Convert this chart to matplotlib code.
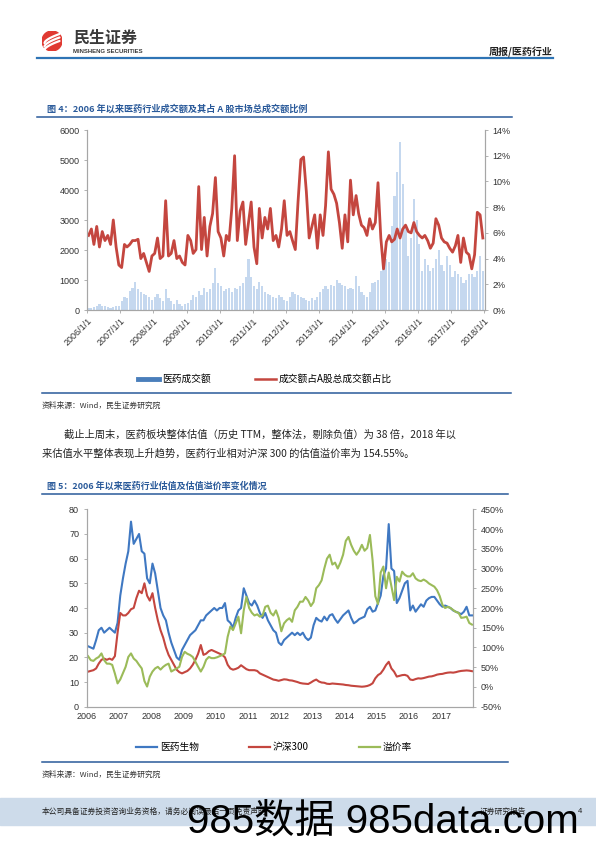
import matplotlib
matplotlib.use('Agg')
import matplotlib.pyplot as plt
from matplotlib.lines import Line2D
from matplotlib.patches import Rectangle, Circle
from matplotlib.ticker import FuncFormatter
import numpy as np
import pandas as pd

plt.rcParams['font.family'] = ['Liberation Sans', 'Noto Sans CJK SC']
CJK = ['Noto Sans CJK SC', 'Liberation Sans']

W, H = 596, 842

# ---- figure 4 data: monthly, 2006-01 .. 2017-12 ----
# pharma turnover (left axis, 亿元)
turnover = [60, 80, 100, 150, 200, 150, 120, 100, 80, 100, 120, 150,
            300, 450, 400, 650, 750, 950, 700, 600, 550, 500, 450, 350,
            450, 550, 400, 300, 700, 400, 300, 200, 350, 200, 150, 200,
            250, 350, 500, 450, 650, 500, 750, 600, 700, 900, 1400, 900,
            800, 650, 700, 750, 600, 750, 700, 800, 900, 1100, 1700, 1100,
            800, 700, 950, 800, 600, 550, 500, 450, 400, 500, 450, 350,
            300, 450, 600, 550, 500, 450, 400, 350, 300, 400, 350, 450,
            600, 700, 800, 700, 850, 800, 1000, 900, 850, 800, 700, 750,
            700, 1150, 800, 600, 500, 450, 600, 900, 950, 1000, 1300, 1800,
            1700, 1600, 2800, 3800, 4600, 5600, 4200, 2800, 1800, 2400, 3700, 3000,
            2200, 1300, 1700, 1500, 1300, 1400, 1700, 2000, 1500, 1300, 1800, 1500,
            1100, 1300, 1200, 1100, 900, 1000, 1200, 1200, 1100, 1300, 1800, 1300]
# share of A-share total turnover (right axis, %)
ratio = [5.8, 6.3, 5.1, 6.5, 4.9, 6.1, 5.4, 5.8, 5.1, 7.0, 4.9, 3.5,
         3.3, 5.1, 4.9, 5.1, 5.4, 5.4, 5.5, 4.0, 4.4, 3.7, 3.0, 4.2,
         4.4, 5.6, 4.0, 4.2, 8.5, 4.2, 4.4, 5.4, 4.0, 4.2, 3.7, 3.5,
         5.8, 5.4, 4.4, 4.7, 9.6, 4.7, 7.2, 4.2, 6.5, 7.5, 10.3, 6.1,
         5.6, 4.2, 5.8, 5.4, 7.9, 12.0, 5.4, 7.7, 8.4, 5.1, 6.8, 8.4,
         4.9, 3.6, 7.9, 5.6, 7.2, 6.3, 7.9, 5.4, 5.8, 4.9, 6.3, 8.5,
         5.8, 6.1, 5.4, 4.7, 8.4, 11.7, 11.9, 9.2, 5.6, 6.5, 7.4, 4.8,
         7.4, 5.8, 8.1, 12.3, 9.4, 9.0, 8.3, 6.8, 4.8, 7.4, 5.3, 10.1,
         7.4, 8.9, 7.5, 6.6, 6.4, 5.8, 7.1, 6.3, 6.8, 9.9, 5.6, 3.2,
         5.3, 5.8, 5.3, 5.5, 6.3, 5.6, 6.3, 6.6, 6.1, 6.0, 6.8, 6.1,
         5.8, 5.6, 5.8, 5.4, 4.8, 5.2, 7.1, 6.6, 5.6, 5.3, 5.2, 4.8,
         4.5, 5.0, 5.8, 3.7, 5.6, 4.5, 4.3, 3.2, 4.3, 7.6, 7.4, 5.6]

# ---- figure 5 data: monthly, 2006-01 .. 2017-12 ----
pharma_pe = [24.5, 24, 23.5, 27, 31, 32, 30, 31, 32, 31, 30, 34,
             45, 52, 58, 63, 75, 66, 68, 70, 63, 62, 52, 50,
             58, 54, 47, 40, 37, 35, 30, 26, 23, 20, 19, 23,
             25, 27, 29, 30, 31, 33, 35, 35, 37, 38, 39, 40,
             39, 40, 40, 42, 35, 34, 32, 36, 39, 40, 48, 45,
             42, 41, 43, 41, 38, 36, 38, 35, 33, 31, 30, 26,
             25, 27, 28, 29, 30, 29, 30, 29, 30, 28, 27, 28,
             33, 36, 35, 34.5, 36.5, 35, 37, 37.5, 35.5, 34, 35.5, 37,
             38, 39, 36, 33.8, 34.5, 35.5, 36, 36.5, 39.5, 40.5, 38.5, 39,
             42, 45, 53, 56, 74, 56, 55, 42, 44, 47, 50, 51,
             39, 41, 38.5, 40, 41.5, 40.5, 43, 44, 44.5, 44.5, 43, 41.5,
             40.5, 41, 40.5, 40, 39, 38.5, 38, 37.5, 38.5, 40.5, 37, 37]
hs300_pe = [14.2, 14.5, 14.8, 15.5, 17.5, 19, 19.5, 19, 19.5, 19, 20.5, 30,
            38, 37, 37, 38, 39.5, 40, 44, 47, 46, 50, 45, 43,
            46, 40, 35, 31, 28, 24, 21, 19, 17, 15, 14, 13.5,
            14, 14.5, 15.5, 17, 19, 21.5, 25, 21, 21.5, 22.5, 23, 22.5,
            22, 21.5, 21, 20, 17, 15.5, 15, 15.3, 15.8, 16.8, 16, 15.2,
            14.8, 14.8, 14.8, 14.5, 13.5, 13, 12.5, 12, 11.5, 11, 10.8, 10.5,
            10.8, 11.1, 11, 10.7, 10.6, 10.3, 10, 9.6, 9.4, 9.3, 9.2, 9.8,
            10.5, 11, 10.2, 9.8, 9.7, 9.3, 9.2, 9.4, 9.3, 9.2, 9.1, 9.0,
            8.8, 8.7, 8.5, 8.4, 8.3, 8.2, 8.1, 8.2, 8.4, 8.8, 9.5, 11.5,
            12.8, 13.5, 15, 16.9, 18.2, 15.5, 14.2, 12.2, 12.5, 12.8, 12.9, 12.5,
            11, 10.8, 11.2, 11.5, 11.4, 11.6, 11.9, 12.2, 12.3, 12.6, 13, 13.2,
            13.3, 13.6, 13.8, 13.9, 13.8, 14, 14.3, 14.5, 14.6, 14.7, 14.6, 14.4]
premium = [78, 68, 66, 72, 76, 85, 68, 59, 59, 56, 34, 9,
           19, 35, 51, 76, 85, 72, 66, 56, 47, 15, 1, 26,
           39, 47, 51, 44, 51, 56, 59, 39, 43, 47, 51, 76,
           89, 84, 81, 76, 64, 51, 39, 51, 69, 76, 73, 73,
           75, 78, 81, 85, 127, 153, 144, 161, 178, 136, 194, 228,
           200, 188, 181, 184, 178, 181, 203, 206, 188, 181, 194, 175,
           141, 161, 169, 174, 165, 194, 203, 216, 216, 228, 219, 205,
           215, 250, 258, 270, 300, 325, 335, 310, 315, 300, 315, 335,
           370, 380, 360, 345, 335, 345, 360, 345, 352, 385, 320, 230,
           210, 290, 305, 250, 290, 255, 220, 279, 267, 292, 284, 280,
           280, 288, 275, 270, 268, 272, 268, 262, 258, 254, 245, 230,
           208, 200, 203, 200, 195, 190, 188, 175, 176, 178, 162, 158]

months = pd.date_range('2006-01-01', periods=len(ratio), freq='MS') + pd.Timedelta(days=14)
years_frac = 2006 + (np.arange(len(pharma_pe)) + 0.5) / 12

BLUE = '#3f78c2'
RED = '#c4463f'
GREEN = '#9bbb59'
BAR = '#c5d8ef'
NAVY = '#2a5a9a'
GRAY = '#a6a6a6'
TXT = '#333333'


def fx(x):
    return x / W


def fy(y):
    return 1 - y / H


def hline(y, x0, x1, color=NAVY, lw=1.1):
    fig.add_artist(Line2D([fx(x0), fx(x1)], [fy(y), fy(y)], color=color, lw=lw,
                          transform=fig.transFigure))


def style_axes(ax, ax2):
    for a in (ax, ax2):
        a.spines['top'].set_visible(False)
        for s in ('left', 'right', 'bottom'):
            a.spines[s].set_color(GRAY)
            a.spines[s].set_linewidth(0.8)
        a.tick_params(labelsize=6.5, length=2.5, width=0.6, color=GRAY, labelcolor=TXT, pad=3)


fig = plt.figure(figsize=(W / 100, H / 100), dpi=100)

# ---- page header ----
logo = fig.add_axes([fx(42), fy(51), fx(20), 20 / H])
logo.set_xlim(-1, 1)
logo.set_ylim(-1, 1)
logo.set_aspect('equal')
logo.axis('off')
logo.add_patch(Circle((0, 0), 1, color='#e03a32'))
t = np.linspace(0, 1, 30)
for off in (-0.35, 0.0, 0.35):
    logo.plot(-0.75 + 1.5 * t, -0.55 + off + 0.9 * t ** 0.6, color='white', lw=1.6,
              solid_capstyle='round')
fig.text(fx(73), fy(38), '民生证券', fontsize=11.5, fontweight='bold', color='#3a3a3a',
         family=CJK, va='center', ha='left')
fig.text(fx(73), fy(51.5), 'MINSHENG SECURITIES', fontsize=4.3, fontweight='bold',
         color='#3a3a3a', va='center', ha='left')
fig.text(fx(553), fy(52), '周报/医药行业', fontsize=7.2, fontweight='bold', color='#222222',
         family=CJK, va='center', ha='right')
hline(58, 37, 553, color='#2e74b5', lw=1.6)

# ---- figure 4 ----
fig.text(fx(47), fy(109), '图 4：2006 年以来医药行业成交额及其占 A 股市场总成交额比例',
         fontsize=6.6, fontweight='bold', color=NAVY, family=CJK, va='center')
hline(116.5, 37, 512)

ax1 = fig.add_axes([fx(87.3), fy(310), fx(485 - 87.3), 180 / H])
ax1.bar(months, turnover, width=24, color=BAR, linewidth=0)
ax1.set_ylim(0, 6000)
ax1.set_yticks(range(0, 6001, 1000))
ax1.set_xlim(pd.Timestamp('2006-01-01'), pd.Timestamp('2018-01-08'))
year_ticks = pd.date_range('2006-01-01', '2018-01-01', freq='YS')
ax1.set_xticks(year_ticks)
ax1.set_xticklabels(['%d/1/1' % d.year for d in year_ticks], rotation=45, ha='right',
                    va='top', rotation_mode='anchor')
ax1b = ax1.twinx()
ax1b.plot(months, ratio, color=RED, lw=2.0)
ax1b.set_ylim(0, 14)
ax1b.set_yticks(range(0, 15, 2))
ax1b.yaxis.set_major_formatter(FuncFormatter(lambda v, p: '%d%%' % v))
style_axes(ax1, ax1b)
ax1.tick_params(axis='x', pad=2)

h1 = [Line2D([], [], color='#4a7ebb', lw=3.5), Line2D([], [], color=RED, lw=1.8)]
fig.legend(h1, ['医药成交额', '成交额占A股总成交额占比'], loc='center',
           bbox_to_anchor=(fx(265), fy(379)), ncol=2, frameon=False,
           prop={'family': CJK, 'size': 7}, handlelength=2.1, handletextpad=0.3,
           columnspacing=4.6)
hline(393, 42, 511)
fig.text(fx(42), fy(406), '资料来源：Wind，民生证券研究院', fontsize=5.6, color='#333333',
         family=CJK, va='center')

# ---- body text ----
fig.text(fx(64), fy(435), '截止上周末，医药板块整体估值（历史 TTM，整体法，剔除负值）为 38 倍，2018 年以',
         fontsize=7.4, color='#222222', family=CJK, va='center')
fig.text(fx(42), fy(454), '来估值水平整体表现上升趋势，医药行业相对沪深 300 的估值溢价率为 154.55%。',
         fontsize=7.4, color='#222222', family=CJK, va='center')

# ---- figure 5 ----
fig.text(fx(47), fy(486), '图 5：2006 年以来医药行业估值及估值溢价率变化情况',
         fontsize=6.5, fontweight='bold', color=NAVY, family=CJK, va='center')
hline(493.5, 42, 508)

ax2 = fig.add_axes([fx(86.7), fy(706.7), fx(473.3 - 86.7), (706.7 - 509.3) / H])
ax2.plot(years_frac, pharma_pe, color=BLUE, lw=1.5)
ax2.plot(years_frac, hs300_pe, color=RED, lw=1.5)
ax2.set_ylim(0, 80)
ax2.set_yticks(range(0, 81, 10))
ax2.set_xlim(2006, 2018)
ax2.set_xticks(range(2006, 2018))
ax2b = ax2.twinx()
ax2b.plot(years_frac, premium, color=GREEN, lw=1.5)
ax2b.set_ylim(-50, 450)
ax2b.set_yticks(range(-50, 451, 50))
ax2b.yaxis.set_major_formatter(FuncFormatter(lambda v, p: '%d%%' % v))
style_axes(ax2, ax2b)
ax2.tick_params(axis='x', length=0, pad=4)

h2 = [Line2D([], [], color=BLUE, lw=1.6), Line2D([], [], color=RED, lw=1.6),
      Line2D([], [], color=GREEN, lw=1.6)]
fig.legend(h2, ['医药生物', '沪深300', '溢价率'], loc='center',
           bbox_to_anchor=(fx(274), fy(747)), ncol=3, frameon=False,
           prop={'family': CJK, 'size': 7}, handlelength=2.1, handletextpad=0.3,
           columnspacing=5.2)
hline(762, 42, 508)
fig.text(fx(42), fy(775), '资料来源：Wind，民生证券研究院', fontsize=5.6, color='#333333',
         family=CJK, va='center')

# ---- footer ----
fig.add_artist(Rectangle((0, fy(825)), 1, 27 / H, transform=fig.transFigure,
                         color='#cddbea', zorder=0))
fig.text(fx(42), fy(811.5), '本公司具备证券投资咨询业务资格，请务必阅读最后一页免责声明',
         fontsize=5.6, color='#222222', family=CJK, va='center')
fig.text(fx(480), fy(811.5), '证券研究报告', fontsize=5.6, color='#222222', family=CJK,
         va='center')
fig.text(fx(578), fy(811.5), '4', fontsize=5.6, color='#222222', va='center')
fig.text(fx(187), fy(833), '985数据 985data.com', fontsize=29, color='black',
         family=['Liberation Sans', 'Noto Sans CJK SC'], va='baseline', ha='left')

fig.savefig('out.png', dpi=100)
